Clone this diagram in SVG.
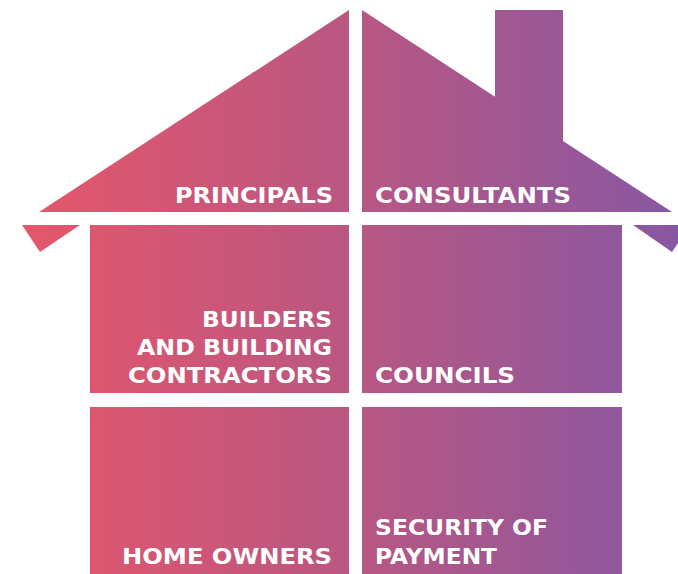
<svg xmlns="http://www.w3.org/2000/svg" width="678" height="574" viewBox="0 0 678 574">
  <defs>
    <linearGradient id="house" gradientUnits="userSpaceOnUse" x1="22" y1="0" x2="678" y2="0">
      <stop offset="0" stop-color="#E6566A"/>
      <stop offset="0.5" stop-color="#B95782"/>
      <stop offset="1" stop-color="#8857A2"/>
    </linearGradient>
  </defs>
  <style>
    .part { fill: url(#house); }
    .lbl { fill: #FFFFFF; font-family: "DejaVu Sans", "Liberation Sans", sans-serif; font-weight: 700; font-size: 22px; }
  </style>
  <rect width="678" height="574" fill="#FFFFFF"/>
  <g id="eaves">
    <polygon class="part" points="22,225 80,225 40,252"/>
    <polygon class="part" points="633,225 690,225 672,252"/>
  </g>
  <g id="principals">
    <polygon class="part" points="349,10 349,212 39,212"/>
    <text class="lbl" x="175" y="203" textLength="158" lengthAdjust="spacingAndGlyphs">PRINCIPALS</text>
  </g>
  <g id="consultants">
    <polygon class="part" points="362,10 495,96.7 495,10 563,10 563,141 672,212 362,212"/>
    <text class="lbl" x="375" y="203" textLength="196" lengthAdjust="spacingAndGlyphs">CONSULTANTS</text>
  </g>
  <g id="builders">
    <rect class="part" x="90" y="225" width="259" height="168"/>
    <text class="lbl" x="202" y="327" textLength="130" lengthAdjust="spacingAndGlyphs">BUILDERS</text>
    <text class="lbl" x="137" y="355" textLength="195" lengthAdjust="spacingAndGlyphs">AND BUILDING</text>
    <text class="lbl" x="128" y="383" textLength="204" lengthAdjust="spacingAndGlyphs">CONTRACTORS</text>
  </g>
  <g id="councils">
    <rect class="part" x="362" y="225" width="260" height="168"/>
    <text class="lbl" x="375" y="383" textLength="140" lengthAdjust="spacingAndGlyphs">COUNCILS</text>
  </g>
  <g id="home-owners">
    <rect class="part" x="90" y="407" width="259" height="167"/>
    <text class="lbl" x="122" y="564" textLength="210" lengthAdjust="spacingAndGlyphs">HOME OWNERS</text>
  </g>
  <g id="security-of-payment">
    <rect class="part" x="362" y="407" width="260" height="167"/>
    <text class="lbl" x="375" y="535" textLength="173" lengthAdjust="spacingAndGlyphs">SECURITY OF</text>
    <text class="lbl" x="375" y="564" textLength="122" lengthAdjust="spacingAndGlyphs">PAYMENT</text>
  </g>
  <g id="connectors"/>
</svg>
